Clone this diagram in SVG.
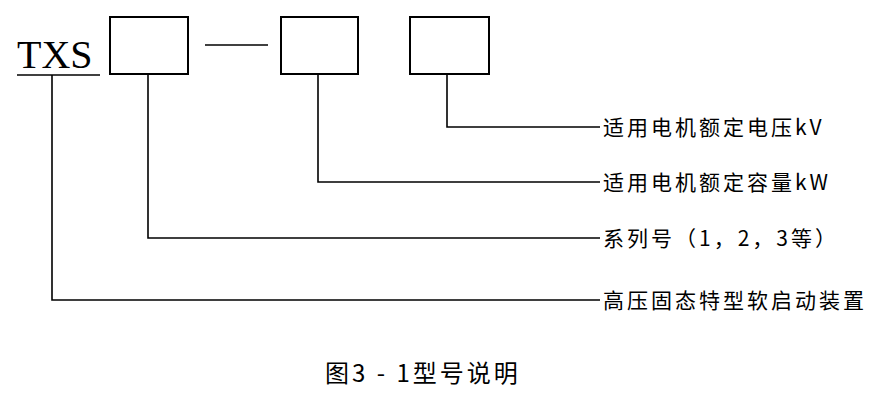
<svg xmlns="http://www.w3.org/2000/svg" width="889" height="400" viewBox="0 0 889 400">
<style>
.b{fill:none;stroke:#000;stroke-width:2}
.l{fill:none;stroke:#000;stroke-width:1.6}
.t{font-family:"Noto Sans CJK SC","Liberation Serif",sans-serif;font-size:21px;letter-spacing:3px;fill:#000}
</style>
<rect width="889" height="400" fill="#fff"/>
<g id="code">
<text x="17" y="68" font-family="Liberation Serif,serif" font-size="40" fill="#000">TXS</text>
<line class="l" x1="17" y1="75" x2="100" y2="75"/>
</g>
<g id="box1"><rect class="b" x="110" y="17" width="78" height="57"/></g>
<g id="dash"><line class="l" x1="205" y1="45" x2="268" y2="45"/></g>
<g id="box2"><rect class="b" x="281" y="17" width="77" height="57"/></g>
<g id="box3"><rect class="b" x="410" y="17" width="79" height="57"/></g>
<g id="connectors">
<polyline class="l" points="447,74 447,127 600,127"/>
<polyline class="l" points="318,74 318,182 600,182"/>
<polyline class="l" points="148,74 148,238 600,238"/>
<polyline class="l" points="52,75 52,300 600,300"/>
</g>
<g id="labels">
<text class="t" x="603" y="135">适用电机额定电压kV</text>
<text class="t" x="603" y="190">适用电机额定容量kW</text>
<text class="t" x="603" y="246">系列号（1，2，3等）</text>
<text class="t" x="603" y="308">高压固态特型软启动装置</text>
</g>
<text x="325" y="382" font-family="Noto Sans CJK SC,sans-serif" font-size="24" letter-spacing="3" fill="#000">图3 - 1型号说明</text>
</svg>
